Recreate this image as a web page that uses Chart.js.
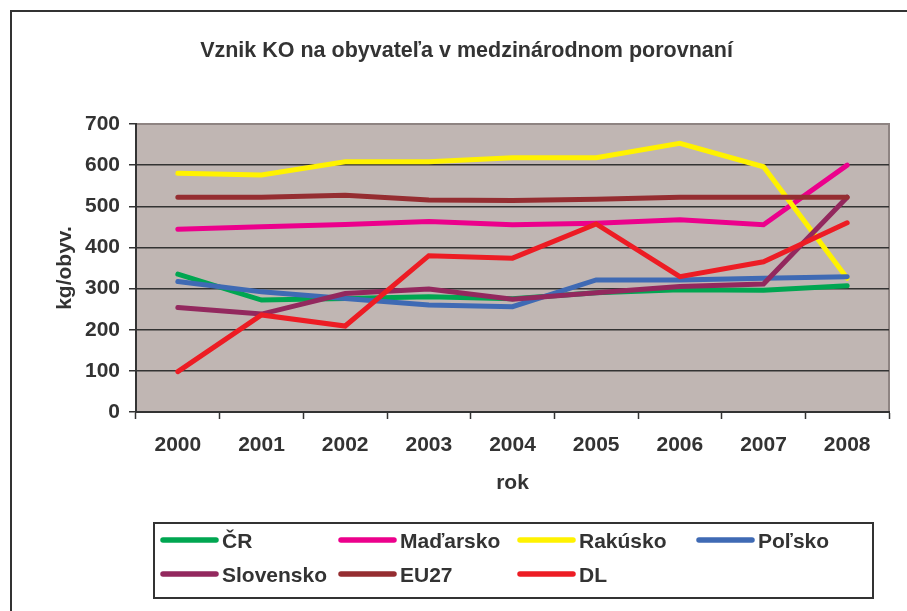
<!DOCTYPE html>
<html>
<head>
<meta charset="utf-8">
<script src="https://cdn.jsdelivr.net/npm/chart.js@4/dist/chart.umd.min.js"></script>
<style>
  html, body { margin: 0; padding: 0; background: #fff; }
  #wrap { width: 907px; height: 611px; position: relative; }
</style>
</head>
<body>
<div id="wrap"><canvas id="c" width="907" height="611"></canvas></div>
<script>
const years = ['2000', '2001', '2002', '2003', '2004', '2005', '2006', '2007', '2008'];
const seriesNames = ['ČR', 'Maďarsko', 'Rakúsko', 'Poľsko', 'Slovensko', 'EU27', 'DL'];
const cr        = [335, 272, 276, 280, 275, 290, 297, 296, 307];
const madarsko  = [444, 450, 456, 463, 455, 459, 467, 455, 600];
const rakusko   = [580, 576, 608, 608, 618, 618, 653, 596, 325];
const polsko    = [317, 292, 276, 260, 256, 321, 321, 325, 329];
const slovensko = [254, 238, 288, 299, 274, 290, 305, 311, 522];
const eu27      = [522, 522, 527, 515, 514, 517, 522, 522, 522];
const dl        = [98, 236, 209, 380, 374, 457, 329, 365, 460];
const yTicks    = [0, 100, 200, 300, 400, 500, 600, 700];

const titleText = 'Vznik KO na obyvateľa v medzinárodnom porovnaní';
const yTitle = 'kg/obyv.';
const xTitle = 'rok';

const seriesValues = [cr, madarsko, rakusko, polsko, slovensko, eu27, dl];
const colors = ['#00A651', '#EC008C', '#FFF200', '#3F6AB4', '#93285E', '#952D31', '#ED1C24'];

const FONT = '"Liberation Sans", Arial, Helvetica, sans-serif';
const TXT = '#333333';

const datasets = seriesNames.map((name, i) => ({
  label: name,
  data: seriesValues[i],
  borderColor: colors[i],
  backgroundColor: colors[i],
  borderWidth: 5,
  borderCapStyle: 'round',
  borderJoinStyle: 'miter',
  pointRadius: 0,
  pointHoverRadius: 0,
  tension: 0,
  fill: false,
  order: seriesNames.length - i
}));

const framePlugin = {
  id: 'frame',
  beforeDraw(chart) {
    const ctx = chart.ctx;
    const a = chart.chartArea;
    ctx.save();
    ctx.fillStyle = '#fff';
    ctx.fillRect(0, 0, chart.width, chart.height);
    ctx.strokeStyle = '#333';
    ctx.lineWidth = 2;
    ctx.strokeRect(11, 11, 1000, 1000);
    ctx.fillStyle = '#C0B6B3';
    ctx.fillRect(a.left, a.top, a.right - a.left, a.bottom - a.top);
    ctx.strokeStyle = '#8E8482';
    ctx.lineWidth = 2;
    ctx.beginPath();
    ctx.moveTo(a.left, a.top);
    ctx.lineTo(a.right, a.top);
    ctx.lineTo(a.right, a.bottom);
    ctx.stroke();
    ctx.restore();
  }
};

const legendPlugin = {
  id: 'boxLegend',
  afterDraw(chart) {
    const ctx = chart.ctx;
    ctx.save();
    ctx.strokeStyle = '#333';
    ctx.lineWidth = 2;
    ctx.strokeRect(154, 523, 719, 75);
    const colX = [161, 339, 518, 697];
    const rowY = [540, 574];
    ctx.font = 'bold 21px ' + FONT;
    ctx.textBaseline = 'middle';
    ctx.textAlign = 'left';
    chart.data.datasets.forEach((ds, i) => {
      const x = colX[i % 4];
      const y = rowY[Math.floor(i / 4)];
      ctx.strokeStyle = ds.borderColor;
      ctx.lineWidth = 5.5;
      ctx.lineCap = 'round';
      ctx.beginPath();
      ctx.moveTo(x + 2, y);
      ctx.lineTo(x + 55, y);
      ctx.stroke();
      ctx.fillStyle = TXT;
      ctx.fillText(ds.label, x + 61, y + 2);
    });
    ctx.restore();
  }
};

new Chart(document.getElementById('c'), {
  type: 'line',
  data: { labels: years, datasets },
  plugins: [framePlugin, legendPlugin],
  options: {
    responsive: false,
    animation: false,
    layout: { padding: { left: 44, right: 18, top: 0, bottom: 115 } },
    plugins: {
      legend: { display: false },
      tooltip: { enabled: false },
      title: {
        display: true,
        text: titleText,
        color: TXT,
        font: { family: FONT, size: 21.5, weight: 'bold' },
        padding: { top: 38.6, bottom: 59.6 }
      }
    },
    scales: {
      x: {
        type: 'category',
        offset: true,
        grid: {
          offset: true,
          drawOnChartArea: false,
          drawTicks: true,
          tickLength: 7,
          tickColor: '#333',
          tickWidth: 1.5
        },
        border: { display: true, color: '#333', width: 2 },
        ticks: {
          color: TXT,
          font: { family: FONT, size: 21, weight: 'bold' },
          padding: 14,
          maxRotation: 0,
          autoSkip: false
        },
        title: {
          display: true,
          text: xTitle,
          color: TXT,
          font: { family: FONT, size: 21, weight: 'bold' },
          padding: { top: 0, bottom: 0 }
        },
        afterFit(scale) { scale.height = 84; }
      },
      y: {
        min: 0,
        max: 700,
        afterBuildTicks(scale) { scale.ticks = yTicks.map(v => ({ value: v })); },
        grid: {
          color: (c) => (c.tick && c.tick.value === 700) ? 'rgba(0,0,0,0)' : '#333',
          lineWidth: 1.5,
          drawTicks: true,
          tickLength: 7,
          tickColor: '#333',
          tickWidth: 1.5
        },
        border: { display: true, color: '#333', width: 2 },
        ticks: {
          color: TXT,
          font: { family: FONT, size: 21, weight: 'bold' },
          padding: 9
        },
        title: {
          display: true,
          text: yTitle,
          color: TXT,
          font: { family: FONT, size: 21, weight: 'bold' },
          padding: { top: 8.4, bottom: 0 }
        },
        afterFit(scale) { scale.width = 92; }
      }
    }
  }
});
</script>
</body>
</html>
